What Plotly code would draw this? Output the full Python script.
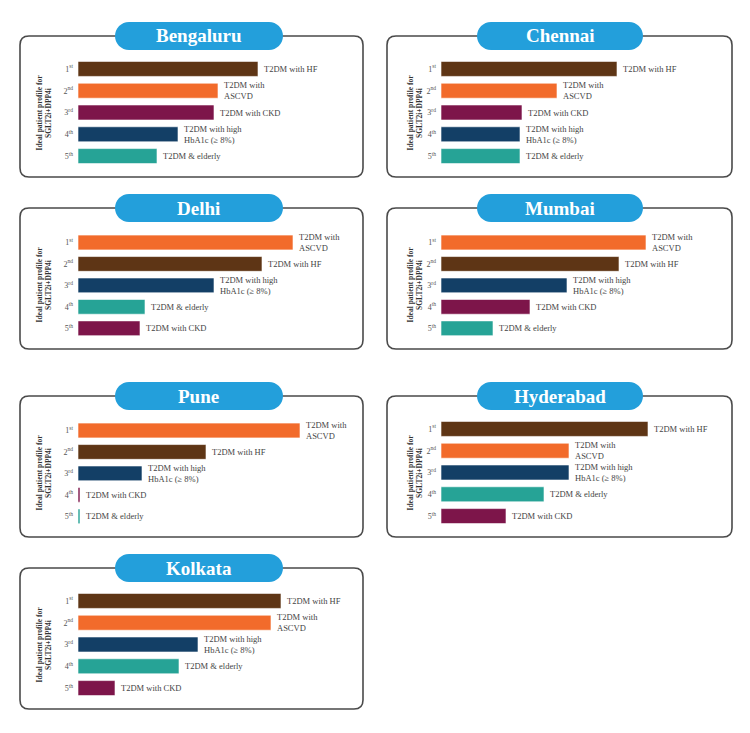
import plotly.graph_objects as go

W, H = 750, 733

cities = ["Bengaluru", "Chennai", "Delhi", "Mumbai", "Pune", "Hyderabad", "Kolkata"]
ranks = ["1<sup>st</sup>", "2<sup>nd</sup>", "3<sup>rd</sup>", "4<sup>th</sup>", "5<sup>th</sup>"]

bengaluru_profiles = ["HF", "ASCVD", "CKD", "HbA1c", "elderly"]
bengaluru_values = [180, 140, 136, 100, 79]
chennai_profiles = ["HF", "ASCVD", "CKD", "HbA1c", "elderly"]
chennai_values = [176, 116, 81, 79, 79]
delhi_profiles = ["ASCVD", "HF", "HbA1c", "elderly", "CKD"]
delhi_values = [215, 184, 136, 67, 62]
mumbai_profiles = ["ASCVD", "HF", "HbA1c", "CKD", "elderly"]
mumbai_values = [205, 178, 126, 89, 52]
pune_profiles = ["ASCVD", "HF", "HbA1c", "CKD", "elderly"]
pune_values = [222, 128, 64, 2, 2]
hyderabad_profiles = ["HF", "ASCVD", "HbA1c", "elderly", "CKD"]
hyderabad_values = [207, 128, 128, 103, 65]
kolkata_profiles = ["HF", "ASCVD", "HbA1c", "elderly", "CKD"]
kolkata_values = [203, 193, 120, 101, 37]

profile_labels = {
    "HF": "T2DM with HF",
    "ASCVD": "T2DM with<br>ASCVD",
    "CKD": "T2DM with CKD",
    "HbA1c": "T2DM with high<br>HbA1c (≥ 8%)",
    "elderly": "T2DM & elderly",
}
profile_colors = {
    "HF": "#5E3515",
    "ASCVD": "#F26B2B",
    "CKD": "#7D154A",
    "HbA1c": "#133F66",
    "elderly": "#26A396",
}

all_profiles = [bengaluru_profiles, chennai_profiles, delhi_profiles, mumbai_profiles,
                pune_profiles, hyderabad_profiles, kolkata_profiles]
all_values = [bengaluru_values, chennai_values, delhi_values, mumbai_values,
              pune_values, hyderabad_values, kolkata_values]

# layout geometry (pixels)
box_tops = [36, 36, 208, 208, 396, 396, 568]
cols = [0, 1, 0, 1, 0, 1, 0]
box_x = [(20, 363), (387, 732)]
bar_left = [78, 441]
pill_x = [(115, 283), (477, 643)]
ytitle_x = [44, 415]
BOX_H = 141

FONT = "Liberation Serif, Times New Roman, serif"

def px(x):
    return x / W

def py(y):
    return 1 - y / H

def rounded_path(x0, y0, x1, y1, r):
    pts = [
        f"M {px(x0 + r)} {py(y0)}",
        f"L {px(x1 - r)} {py(y0)}",
        f"Q {px(x1)} {py(y0)} {px(x1)} {py(y0 + r)}",
        f"L {px(x1)} {py(y1 - r)}",
        f"Q {px(x1)} {py(y1)} {px(x1 - r)} {py(y1)}",
        f"L {px(x0 + r)} {py(y1)}",
        f"Q {px(x0)} {py(y1)} {px(x0)} {py(y1 - r)}",
        f"L {px(x0)} {py(y0 + r)}",
        f"Q {px(x0)} {py(y0)} {px(x0 + r)} {py(y0)}",
        "Z",
    ]
    return " ".join(pts)

def pill_path(x0, y0, x1, y1):
    r = (y1 - y0) / 2
    k = 0.5523
    ym = (y0 + y1) / 2
    pts = [
        f"M {px(x0 + r)} {py(y0)}",
        f"L {px(x1 - r)} {py(y0)}",
        f"C {px(x1 - r + k * r)} {py(y0)} {px(x1)} {py(ym - k * r)} {px(x1)} {py(ym)}",
        f"C {px(x1)} {py(ym + k * r)} {px(x1 - r + k * r)} {py(y1)} {px(x1 - r)} {py(y1)}",
        f"L {px(x0 + r)} {py(y1)}",
        f"C {px(x0 + r - k * r)} {py(y1)} {px(x0)} {py(ym + k * r)} {px(x0)} {py(ym)}",
        f"C {px(x0)} {py(ym - k * r)} {px(x0 + r - k * r)} {py(y0)} {px(x0 + r)} {py(y0)}",
        "Z",
    ]
    return " ".join(pts)

fig = go.Figure()
shapes = []
annotations = []
layout_axes = {}

for i, city in enumerate(cities):
    c = cols[i]
    top = box_tops[i]
    bx0, bx1 = box_x[c]
    n = i + 1
    xa = "x" if n == 1 else f"x{n}"
    ya = "y" if n == 1 else f"y{n}"
    xkey = "xaxis" if n == 1 else f"xaxis{n}"
    ykey = "yaxis" if n == 1 else f"yaxis{n}"

    profiles = all_profiles[i]
    values = all_values[i]

    fig.add_trace(go.Bar(
        x=values, y=ranks, orientation="h",
        marker=dict(color=[profile_colors[p] for p in profiles],
                    line=dict(color="rgba(255,255,255,0.6)", width=1)),
        xaxis=xa, yaxis=ya, showlegend=False, hoverinfo="skip",
    ))

    d_top = top + 22
    d_bot = d_top + 109
    x_left = bar_left[c]
    layout_axes[xkey] = dict(
        domain=[px(x_left), px(bx1)], range=[0, bx1 - x_left],
        visible=False, anchor=ya, fixedrange=True,
    )
    layout_axes[ykey] = dict(
        domain=[py(d_bot), py(d_top)], anchor=xa,
        autorange="reversed", type="category",
        showline=False, showgrid=False, zeroline=False, ticks="",
        tickfont=dict(family=FONT, size=8, color="#555555"),
        ticklabelstandoff=4,
    )

    for p, v, r in zip(profiles, values, ranks):
        annotations.append(dict(
            x=v, y=r, xref=xa, yref=ya, text=profile_labels[p],
            showarrow=False, xanchor="left", yanchor="middle", align="left",
            xshift=4, font=dict(family=FONT, size=8.5, color="#444444"),
        ))

    # y axis title
    annotations.append(dict(
        x=px(ytitle_x[c]), y=py((d_top + d_bot) / 2), xref="paper", yref="paper",
        text="<b>Ideal patient profile for<br>SGLT2i+DPP4i</b>", textangle=-90,
        showarrow=False, xanchor="center", yanchor="middle",
        font=dict(family=FONT, size=7.5, color="#333333"),
    ))

    # box
    shapes.append(dict(type="path", xref="paper", yref="paper",
                       path=rounded_path(bx0, top, bx1, top + BOX_H, 9),
                       line=dict(color="#4a4a4a", width=1.6), fillcolor="rgba(0,0,0,0)",
                       layer="below"))
    # pill
    p0, p1 = pill_x[c]
    shapes.append(dict(type="path", xref="paper", yref="paper",
                       path=pill_path(p0, top - 14, p1, top + 14),
                       line=dict(color="#239FDB", width=0), fillcolor="#239FDB",
                       layer="above"))
    annotations.append(dict(
        x=px((p0 + p1) / 2), y=py(top), xref="paper", yref="paper",
        text=f"<b>{city}</b>", showarrow=False, xanchor="center", yanchor="middle",
        font=dict(family=FONT, size=19, color="white"),
    ))

fig.update_layout(
    width=W, height=H, margin=dict(l=0, r=0, t=0, b=0),
    paper_bgcolor="white", plot_bgcolor="rgba(0,0,0,0)",
    bargap=0.31, shapes=shapes, annotations=annotations,
    **layout_axes,
)

fig.write_html("out.html")
